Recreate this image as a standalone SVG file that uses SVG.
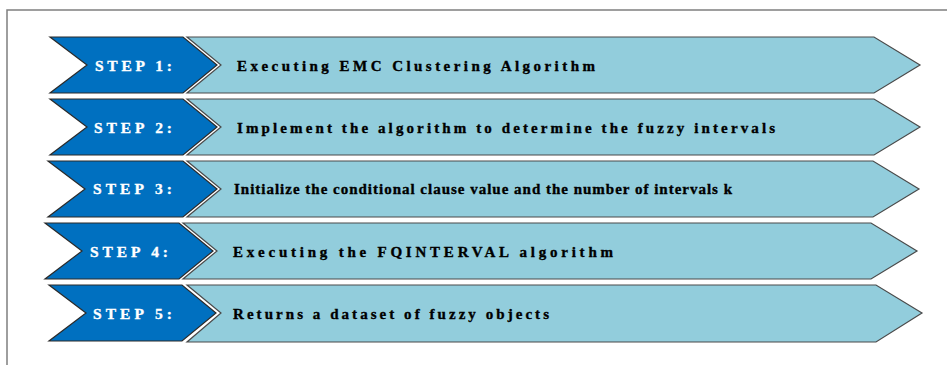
<svg xmlns="http://www.w3.org/2000/svg" width="947" height="365" viewBox="0 0 947 365">
  <defs>
    <style>
      .frame { fill: none; stroke: #7f7f7f; stroke-width: 1.5; }
      .tag { fill: #0070c0; stroke: #2b2b2b; stroke-width: 1.2; stroke-linejoin: miter; }
      .bar { fill: #92cddc; stroke: #4a4a4a; stroke-width: 1.2; stroke-linejoin: miter; }
      .tag-text { font-family: "Liberation Serif", "Times New Roman", serif; font-weight: bold; font-size: 15.5px; fill: #ffffff; stroke: #ffffff; stroke-width: 0.35; }
      .bar-text { font-family: "Liberation Serif", "Times New Roman", serif; font-weight: bold; font-size: 15px; fill: #000000; stroke: #000000; stroke-width: 0.35; }
    </style>
  </defs>
  <rect width="947" height="365" fill="#ffffff"/>
  <!-- page frame (top and left edges only are in view) -->
  <path class="frame" d="M7,365 V10 H947"/>

  <g id="step1">
    <polygon class="tag" points="50,37 183,37 217,65 183,93 50,93 87,65"/>
    <polygon class="bar" points="187,37 874,37 920,65 874,93 187,93 221,65"/>
    <text class="tag-text" x="95" y="71" textLength="77" lengthAdjust="spacing">STEP 1:</text>
    <text class="bar-text" x="237" y="71" textLength="358" lengthAdjust="spacing">Executing EMC Clustering Algorithm</text>
  </g>

  <g id="step2">
    <polygon class="tag" points="50,99 183,99 217,127 183,155 50,155 87,127"/>
    <polygon class="bar" points="187,99 874,99 920,127 874,155 187,155 221,127"/>
    <text class="tag-text" x="94" y="133" textLength="78" lengthAdjust="spacing">STEP 2:</text>
    <text class="bar-text" x="237" y="133" textLength="538" lengthAdjust="spacing">Implement the algorithm to determine the fuzzy intervals</text>
  </g>

  <g id="step3">
    <polygon class="tag" points="48,161 183,161 217,189 183,217 48,217 85,189"/>
    <polygon class="bar" points="187,161 873,161 919,189 873,217 187,217 221,189"/>
    <text class="tag-text" x="93" y="194" textLength="79" lengthAdjust="spacing">STEP 3:</text>
    <text class="bar-text" x="234" y="194" textLength="498" lengthAdjust="spacing">Initialize the conditional clause value and the number of intervals k</text>
  </g>

  <g id="step4">
    <polygon class="tag" points="45,223 179,223 213,251 179,279 45,279 82,251"/>
    <polygon class="bar" points="183,223 871,223 917,251 871,279 183,279 217,251"/>
    <text class="tag-text" x="90" y="257" textLength="78" lengthAdjust="spacing">STEP 4:</text>
    <text class="bar-text" x="233" y="257" textLength="380" lengthAdjust="spacing">Executing the FQINTERVAL algorithm</text>
  </g>

  <g id="step5">
    <polygon class="tag" points="49,285 182,285 216,313 182,341 49,341 86,313"/>
    <polygon class="bar" points="187,285 876,285 922,313 876,342 187,342 221,313"/>
    <text class="tag-text" x="93" y="319" textLength="79" lengthAdjust="spacing">STEP 5:</text>
    <text class="bar-text" x="233" y="319" textLength="316" lengthAdjust="spacing">Returns a dataset of fuzzy objects</text>
  </g>
</svg>
